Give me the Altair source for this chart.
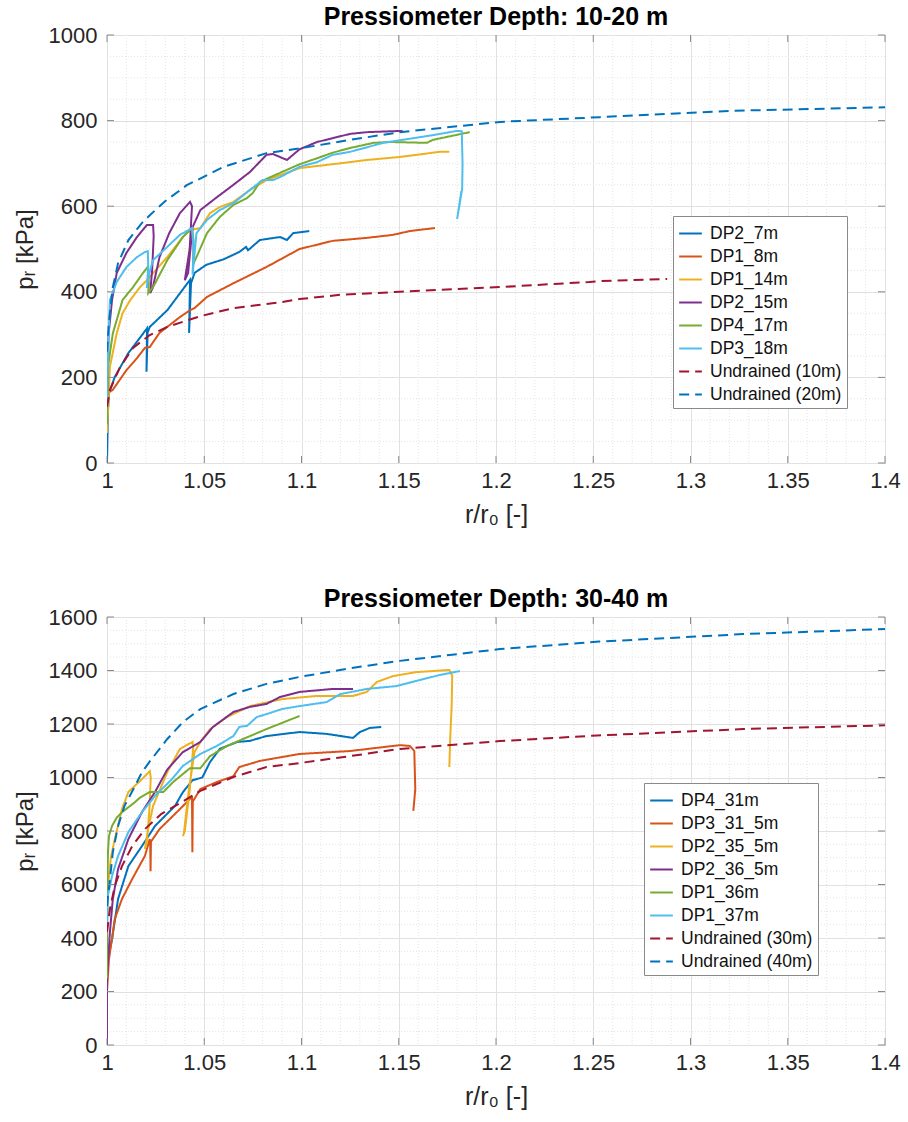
import altair as alt
import pandas as pd

# ---------------- top panel (10-20 m) ----------------
TOP_NAMES = ["DP2_7m", "DP1_8m", "DP1_14m", "DP2_15m", "DP4_17m", "DP3_18m",
             "Undrained (10m)", "Undrained (20m)"]

DP2_7M_X = [1.0, 1.0005, 1.001, 1.004, 1.011, 1.018, 1.0206, 1.0203, 1.0209, 1.022, 1.031,
            1.0427, 1.0422, 1.0432, 1.045, 1.051, 1.060, 1.068, 1.0715, 1.0725, 1.0786,
            1.089, 1.0925, 1.0957, 1.104]
DP2_7M_Y = [0, 120, 163, 201, 257, 299, 315, 213, 305, 318, 357,
            428, 304, 420, 444, 463, 476, 493, 505, 497, 521,
            528, 521, 537, 542]

DP1_8M_X = [1.0, 1.0005, 1.003, 1.010, 1.0154, 1.0195, 1.022, 1.027, 1.0375, 1.0427, 1.045,
            1.0514, 1.065, 1.082, 1.099, 1.116, 1.1336, 1.147, 1.1557, 1.1686]
DP1_8M_Y = [140, 164, 171, 217, 245, 269, 271, 304, 341, 357, 362,
            388, 420, 458, 500, 519, 526, 533, 542, 549]

DP1_14M_X = [1.0, 1.0015, 1.005, 1.008, 1.012, 1.017, 1.0205, 1.031, 1.039, 1.0427, 1.048,
             1.053, 1.058, 1.065, 1.0735, 1.082, 1.099, 1.125, 1.1336, 1.1506, 1.171, 1.176]
DP1_14M_Y = [70, 225, 303, 350, 381, 411, 427, 481, 528, 544, 549,
             584, 598, 610, 638, 661, 689, 703, 708, 715, 727, 727]

DP2_15M_X = [1.0, 1.0008, 1.0026, 1.005, 1.010, 1.0154, 1.0205, 1.0237, 1.0240, 1.0232,
             1.0222, 1.0235, 1.027, 1.032, 1.0375, 1.0427, 1.0437, 1.0425, 1.040, 1.0417,
             1.044, 1.048, 1.0565, 1.065, 1.0735, 1.082, 1.0853, 1.0925, 1.099, 1.108,
             1.125, 1.1336, 1.152]
DP2_15M_Y = [150, 300, 381, 444, 491, 528, 556, 556, 530,
             450, 397, 409, 481, 537, 584, 610, 600, 500, 427, 444,
             551, 591, 621, 650, 680, 720, 722, 708, 733, 750,
             769, 773, 776]

DP4_17M_X = [1.0, 1.0005, 1.003, 1.008, 1.0134, 1.0185, 1.021, 1.0215, 1.0212, 1.0237,
             1.031, 1.039, 1.0437, 1.0445, 1.0442, 1.046, 1.0514, 1.058, 1.065, 1.072,
             1.075, 1.0786, 1.090, 1.099, 1.108, 1.116, 1.125, 1.137, 1.1455, 1.1645,
             1.1675, 1.1865]
DP4_17M_Y = [90, 225, 303, 381, 411, 444, 458, 420, 397, 411,
             474, 528, 549, 520, 463, 481, 537, 575, 603, 619,
             631, 657, 680, 698, 712, 725, 736, 748, 750, 748,
             755, 773]

DP3_18M_X = [1.0, 1.0005, 1.0015, 1.005, 1.010, 1.0154, 1.0195, 1.021, 1.0212, 1.0205,
             1.0215, 1.0237, 1.031, 1.0375, 1.0437, 1.0445, 1.0440, 1.046, 1.0514, 1.058,
             1.065, 1.0735, 1.080, 1.0853, 1.089, 1.099, 1.108, 1.116, 1.125, 1.142,
             1.1675, 1.180, 1.1824, 1.1828, 1.1826, 1.180, 1.1822]
DP3_18M_Y = [150, 250, 381, 423, 458, 481, 493, 495, 460, 409,
             440, 474, 505, 533, 549, 500, 440, 537, 568, 591,
             607, 638, 661, 661, 668, 692, 703, 720, 727, 748,
             766, 776, 775, 700, 640, 570, 635]

UND10_X = [1.0, 1.0015, 1.0067, 1.0134, 1.022, 1.031, 1.048, 1.065, 1.090, 1.099, 1.12,
           1.1506, 1.202, 1.248, 1.2533, 1.288]
UND10_Y = [131, 171, 224, 269, 299, 318, 343, 362, 376, 383, 393,
           400, 411, 423, 425, 430]

UND20_X = [1.0, 1.001, 1.003, 1.0057, 1.011, 1.018, 1.022, 1.030, 1.041, 1.060, 1.082,
           1.099, 1.125, 1.1506, 1.202, 1.2533, 1.322, 1.40]
UND20_Y = [260, 330, 411, 467, 521, 561, 579, 612, 649, 692, 724,
           735, 755, 773, 797, 808, 823, 831]

# ---------------- bottom panel (30-40 m) ----------------
BOT_NAMES = ["DP4_31m", "DP3_31_5m", "DP2_35_5m", "DP2_36_5m", "DP1_36m", "DP1_37m",
             "Undrained (30m)", "Undrained (40m)"]

DP4_31M_X = [1.0, 1.0005, 1.0026, 1.0057, 1.011, 1.018, 1.0247, 1.035, 1.039, 1.044, 1.049,
             1.053, 1.058, 1.067, 1.0735, 1.082, 1.099, 1.113, 1.1265, 1.130, 1.135, 1.141]
DP4_31M_Y = [250, 320, 396, 546, 669, 744, 819, 894, 945, 990, 1000,
             1058, 1107, 1133, 1137, 1155, 1170, 1163, 1148, 1170, 1185, 1189]

DP3_315M_X = [1.0, 1.001, 1.004, 1.0077, 1.013, 1.0195, 1.022, 1.0222, 1.0224, 1.0226,
              1.027, 1.0375, 1.0427, 1.0437, 1.0439, 1.0441, 1.048, 1.0565, 1.065, 1.068,
              1.0786, 1.099, 1.125, 1.1506, 1.1557, 1.158, 1.1585, 1.1575]
DP3_315M_Y = [200, 320, 471, 546, 621, 707, 770, 760, 650, 760,
              807, 882, 920, 925, 721, 910, 957, 983, 1005, 1039,
              1062, 1088, 1099, 1121, 1118, 1099, 957, 875]

DP2_355M_X = [1.0, 1.0005, 1.002, 1.004, 1.0077, 1.011, 1.018, 1.022, 1.0225, 1.0218,
              1.0205, 1.0195, 1.021, 1.0237, 1.031, 1.0375, 1.044, 1.0443, 1.0425, 1.040,
              1.039, 1.0395, 1.042, 1.045, 1.048, 1.053, 1.0617, 1.0735, 1.090, 1.108,
              1.1265, 1.1336, 1.1387, 1.147, 1.159, 1.176, 1.1775, 1.1772, 1.1765, 1.176,
              1.1765]
DP2_355M_Y = [480, 594, 700, 770, 882, 946, 994, 1024, 1000, 880,
              760, 733, 800, 894, 1020, 1107, 1133, 1110, 950, 800,
              781, 790, 950, 1095, 1133, 1181, 1226, 1267, 1293, 1305,
              1305, 1320, 1357, 1379, 1394, 1402, 1380, 1267, 1155, 1039,
              1155]

DP2_365M_X = [1.0, 1.0, 1.0015, 1.003, 1.0057, 1.011, 1.018, 1.0247, 1.031, 1.039, 1.048,
              1.0545, 1.065, 1.0735, 1.082, 1.089, 1.099, 1.116, 1.1265]
DP2_365M_Y = [0, 250, 422, 546, 658, 770, 871, 946, 1030, 1095, 1133,
              1189, 1245, 1264, 1275, 1301, 1320, 1331, 1331]

DP1_36M_X = [1.0, 1.0002, 1.0005, 1.001, 1.0026, 1.005, 1.0077, 1.0144, 1.017, 1.022,
             1.029, 1.034, 1.0427, 1.048, 1.053, 1.0617, 1.070, 1.082, 1.099]
DP1_36M_Y = [250, 600, 720, 781, 819, 850, 870, 908, 925, 946,
             946, 983, 1035, 1035, 1080, 1118, 1144, 1181, 1230]

DP1_37M_X = [1.0, 1.0005, 1.0026, 1.0057, 1.011, 1.018, 1.0247, 1.0334, 1.039, 1.048,
             1.0565, 1.065, 1.068, 1.072, 1.077, 1.082, 1.090, 1.099, 1.113, 1.12,
             1.1336, 1.149, 1.159, 1.171, 1.1814]
DP1_37M_Y = [450, 560, 632, 707, 796, 871, 931, 994, 1043, 1088,
             1118, 1155, 1189, 1193, 1226, 1237, 1256, 1267, 1282, 1312,
             1331, 1342, 1361, 1383, 1398]

UND30_X = [1.0, 1.0015, 1.004, 1.0077, 1.013, 1.0195, 1.028, 1.0385, 1.048, 1.065, 1.082,
           1.099, 1.125, 1.1506, 1.202, 1.252, 1.327, 1.40]
UND30_Y = [422, 508, 594, 669, 744, 807, 864, 908, 950, 1002, 1039,
           1054, 1080, 1107, 1136, 1157, 1181, 1195]

UND40_X = [1.0, 1.0015, 1.003, 1.0057, 1.009, 1.0144, 1.018, 1.022, 1.031, 1.039, 1.048,
           1.065, 1.082, 1.099, 1.123, 1.1506, 1.202, 1.253, 1.327, 1.40]
UND40_Y = [520, 620, 721, 819, 894, 968, 1020, 1060, 1144, 1207, 1256,
           1312, 1350, 1376, 1406, 1436, 1480, 1508, 1536, 1555]

# ---------------- ticks / styles ----------------
X_TICKS = [1.0, 1.05, 1.1, 1.15, 1.2, 1.25, 1.3, 1.35, 1.4]
TOP_Y_TICKS = [0, 200, 400, 600, 800, 1000]
BOT_Y_TICKS = [0, 200, 400, 600, 800, 1000, 1200, 1400, 1600]
X_MINOR_STEP = 0.01
Y_MINOR_STEP = 50

COLORS = ["#0072BD", "#D95319", "#EDB120", "#7E2F8E", "#77AC30", "#4DBEEE",
          "#A2142F", "#0072BD"]
DASHES = [[1, 0]] * 6 + [[10, 6], [10, 6]]

W, H = 778, 428
FONT = "Liberation Sans"
TXT = "#262626"
BOX = "#8a8a8a"


def frame(names, xs_list, ys_list):
    rows = []
    for name, xs, ys in zip(names, xs_list, ys_list):
        for i, (x, y) in enumerate(zip(xs, ys)):
            rows.append({"series": name, "x": x, "y": y, "i": i})
    return pd.DataFrame(rows)


def minor_vals(lo, hi, step, majors):
    n = int(round((hi - lo) / step))
    vals = [round(lo + k * step, 6) for k in range(n + 1)]
    maj = [round(m, 6) for m in majors]
    return [v for v in vals if v not in maj]


def panel(df, names, yticks, title, lx, ly):
    ymax = yticks[-1]
    xsc = alt.Scale(domain=[1.0, 1.4], nice=False, zero=False)
    ysc = alt.Scale(domain=[0, ymax], nice=False, zero=False)
    xaxis = alt.Axis(values=X_TICKS, format=".2~f", title="r/r₀ [-]", grid=True,
                     gridColor="#e1e1e1", ticks=False, domain=False, labelFlush=False,
                     labelOverlap=False, labelFontSize=22, labelFont=FONT, labelColor=TXT,
                     labelPadding=7, titleFont=FONT, titleFontSize=25,
                     titleFontWeight="normal", titleColor=TXT, titlePadding=11)
    yaxis = alt.Axis(values=yticks, format="d", title="pᵣ [kPa]", grid=True,
                     gridColor="#e1e1e1", ticks=False, domain=False, labelFlush=False,
                     labelOverlap=False, labelFontSize=22, labelFont=FONT, labelColor=TXT,
                     labelPadding=10, titleFont=FONT, titleFontSize=24,
                     titleFontWeight="normal", titleColor=TXT, titlePadding=11)
    xm = pd.DataFrame({"v": minor_vals(1.0, 1.4, X_MINOR_STEP, X_TICKS)})
    ym = pd.DataFrame({"v": minor_vals(0, ymax, Y_MINOR_STEP, yticks)})
    xt = pd.DataFrame({"v": X_TICKS})
    yt = pd.DataFrame({"v": yticks})

    minor_v = alt.Chart(xm).mark_rule(color="#e4e4e4", strokeDash=[1, 2], strokeWidth=1).encode(
        x=alt.X("v:Q", scale=xsc, axis=xaxis))
    minor_h = alt.Chart(ym).mark_rule(color="#e4e4e4", strokeDash=[1, 2], strokeWidth=1).encode(
        y=alt.Y("v:Q", scale=ysc, axis=yaxis))
    tick_b = alt.Chart(xt).mark_rule(color=BOX, strokeWidth=1).encode(
        x=alt.X("v:Q", scale=xsc, axis=xaxis), y=alt.value(H), y2=alt.value(H - 7))
    tick_t = alt.Chart(xt).mark_rule(color=BOX, strokeWidth=1).encode(
        x=alt.X("v:Q", scale=xsc, axis=xaxis), y=alt.value(0), y2=alt.value(7))
    tick_l = alt.Chart(yt).mark_rule(color=BOX, strokeWidth=1).encode(
        y=alt.Y("v:Q", scale=ysc, axis=yaxis), x=alt.value(0), x2=alt.value(7))
    tick_r = alt.Chart(yt).mark_rule(color=BOX, strokeWidth=1).encode(
        y=alt.Y("v:Q", scale=ysc, axis=yaxis), x=alt.value(W), x2=alt.value(W - 7))

    leg = alt.Legend(orient="none", legendX=lx, legendY=ly, title=None, fillColor="white",
                     strokeColor=BOX, padding=5, labelFontSize=17.5, labelFont=FONT,
                     labelColor="#111111", symbolType="stroke", symbolStrokeWidth=2,
                     symbolSize=515, rowPadding=2, labelOffset=7, labelLimit=400)
    lines = alt.Chart(df).mark_line(strokeWidth=2, clip=True).encode(
        x=alt.X("x:Q", scale=xsc, axis=xaxis),
        y=alt.Y("y:Q", scale=ysc, axis=yaxis),
        color=alt.Color("series:N", scale=alt.Scale(domain=names, range=COLORS), legend=leg),
        strokeDash=alt.StrokeDash("series:N", scale=alt.Scale(domain=names, range=DASHES),
                                  legend=leg),
        order=alt.Order("i:Q"),
    )
    return alt.layer(minor_v, minor_h, lines, tick_b, tick_t, tick_l, tick_r).properties(
        width=W, height=H,
        title=alt.TitleParams(title, font=FONT, fontSize=25, fontWeight="bold",
                              color="#000000", offset=-6, anchor="middle", frame="group"))


top_df = frame(TOP_NAMES,
               [DP2_7M_X, DP1_8M_X, DP1_14M_X, DP2_15M_X, DP4_17M_X, DP3_18M_X, UND10_X, UND20_X],
               [DP2_7M_Y, DP1_8M_Y, DP1_14M_Y, DP2_15M_Y, DP4_17M_Y, DP3_18M_Y, UND10_Y, UND20_Y])
bot_df = frame(BOT_NAMES,
               [DP4_31M_X, DP3_315M_X, DP2_355M_X, DP2_365M_X, DP1_36M_X, DP1_37M_X, UND30_X, UND40_X],
               [DP4_31M_Y, DP3_315M_Y, DP2_355M_Y, DP2_365M_Y, DP1_36M_Y, DP1_37M_Y, UND30_Y, UND40_Y])

top = panel(top_df, TOP_NAMES, TOP_Y_TICKS, "Pressiometer Depth: 10-20 m", 566, 181)
bot = panel(bot_df, BOT_NAMES, BOT_Y_TICKS, "Pressiometer Depth: 30-40 m", 537, 166)

chart = alt.vconcat(top, bot, spacing=58).resolve_scale(
    x="independent", y="independent", color="independent", strokeDash="independent"
).resolve_legend(color="independent", strokeDash="independent").properties(
    padding={"left": 12, "top": 4, "right": 4, "bottom": 4},
    background="white",
).configure_view(stroke=BOX, strokeWidth=1)

chart.save("out.html", embed_options={"renderer": "svg", "actions": False})
